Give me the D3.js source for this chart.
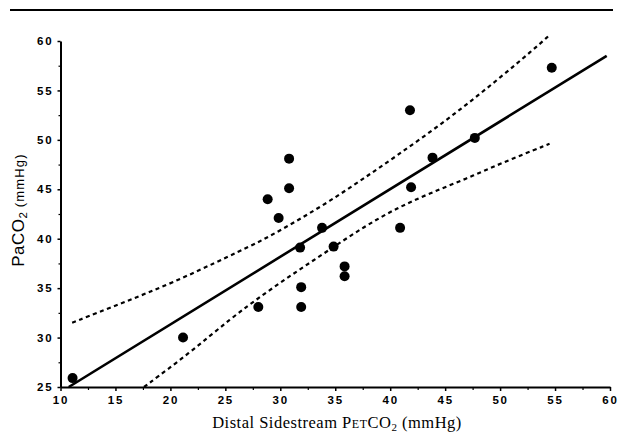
<!DOCTYPE html>
<html>
<head>
<meta charset="utf-8">
<script src="https://cdn.jsdelivr.net/npm/d3@7"></script>
<style>
  html, body { margin: 0; padding: 0; background: #fff; }
  svg { display: block; }
</style>
</head>
<body>
<svg id="chart" width="620" height="441"></svg>
<script>
// ---- data ----
const petco2 = [11.1, 21.15, 28.0, 28.85, 29.85, 30.8, 30.8, 31.8, 31.9, 31.9, 33.8, 34.85, 35.85, 35.85, 40.9, 41.8, 41.9, 43.85, 47.7, 54.7];
const paco2  = [25.9, 30.0, 33.1, 44.0, 42.1, 48.1, 45.1, 39.1, 35.1, 33.1, 41.1, 39.2, 37.2, 36.2, 41.1, 53.0, 45.2, 48.2, 50.2, 57.3];

// regression line end points
const fitX = [10.75, 59.7];
const fitY = [25.0, 58.5];

// confidence band curves
const upperX = [11.06, 15.6, 20.15, 25.45, 28.5, 31.5, 34.5, 37.6, 40.6, 43.9, 47.0, 50.0, 53.0, 54.4];
const upperY = [31.5, 33.5, 35.5, 38.3, 39.9, 41.8, 43.8, 46.1, 48.4, 51.0, 53.6, 56.3, 59.1, 60.5];
const lowerX = [17.6, 21.7, 25.45, 28.5, 31.5, 34.5, 37.6, 40.6, 43.6, 47.0, 50.0, 54.5];
const lowerY = [25.0, 28.4, 31.9, 34.4, 36.7, 38.9, 41.2, 43.1, 44.6, 46.1, 47.6, 49.6];

const xTicks = [10, 15, 20, 25, 30, 35, 40, 45, 50, 55, 60];
const yTicks = [25, 30, 35, 40, 45, 50, 55, 60];
const xMinor = [12.5, 17.5, 22.5, 27.5, 32.5, 37.5, 42.5, 47.5, 52.5, 57.5];
const yMinor = [27.5, 32.5, 37.5, 42.5, 47.5, 52.5, 57.5];

// ---- drawing ----
const svg = d3.select("#chart");
const x = d3.scaleLinear().domain([10, 60]).range([60.5, 610]);
const y = d3.scaleLinear().domain([25, 60]).range([387, 41]);

// top rule
svg.append("line")
  .attr("x1", 10).attr("x2", 613).attr("y1", 10).attr("y2", 10)
  .attr("stroke", "#000").attr("stroke-width", 2);

const tickFont = "'Liberation Sans', Arial, sans-serif";

// x axis
const gx = svg.append("g").attr("transform", `translate(0,${y(25)})`)
  .call(d3.axisBottom(x).tickValues(xTicks).tickSize(4).tickSizeOuter(0).tickPadding(5)
        .tickFormat(d3.format("d")));
gx.select(".domain").attr("stroke-width", 2);
gx.selectAll(".tick line").attr("stroke-width", 1.5);
gx.selectAll(".tick text").attr("font-family", tickFont).attr("font-weight", "bold")
  .attr("font-size", 11.5).attr("letter-spacing", "1.8px").attr("fill", "#000");
svg.append("g").attr("transform", `translate(0,${y(25)})`)
  .call(d3.axisBottom(x).tickValues(xMinor).tickSize(3).tickSizeOuter(0).tickFormat(""))
  .call(g => g.select(".domain").remove())
  .selectAll(".tick line").attr("stroke-width", 1.2);

// y axis
const gy = svg.append("g").attr("transform", `translate(${x(10)},0)`)
  .call(d3.axisLeft(y).tickValues(yTicks).tickSize(3).tickSizeOuter(0).tickPadding(4)
        .tickFormat(d3.format("d")));
gy.select(".domain").attr("stroke-width", 2);
gy.selectAll(".tick line").attr("stroke-width", 1.5);
gy.selectAll(".tick text").attr("font-family", tickFont).attr("font-weight", "bold")
  .attr("font-size", 11.5).attr("letter-spacing", "1.8px").attr("fill", "#000");
svg.append("g").attr("transform", `translate(${x(10)},0)`)
  .call(d3.axisLeft(y).tickValues(yMinor).tickSize(2).tickSizeOuter(0).tickFormat(""))
  .call(g => g.select(".domain").remove())
  .selectAll(".tick line").attr("stroke-width", 1.2);

// confidence bands
const line = d3.line().x(d => x(d[0])).y(d => y(d[1])).curve(d3.curveBasis);
svg.append("path").datum(d3.zip(upperX, upperY))
  .attr("d", line).attr("fill", "none").attr("stroke", "#000")
  .attr("stroke-width", 2.2).attr("stroke-dasharray", "4,3.5");
svg.append("path").datum(d3.zip(lowerX, lowerY))
  .attr("d", line).attr("fill", "none").attr("stroke", "#000")
  .attr("stroke-width", 2.2).attr("stroke-dasharray", "4,3.5");

// regression line
svg.append("path").datum(d3.zip(fitX, fitY))
  .attr("d", d3.line().x(d => x(d[0])).y(d => y(d[1])))
  .attr("fill", "none").attr("stroke", "#000").attr("stroke-width", 2.6);

// points
svg.append("g").selectAll("circle").data(d3.zip(petco2, paco2)).join("circle")
  .attr("cx", d => x(d[0])).attr("cy", d => y(d[1])).attr("r", 5).attr("fill", "#000");

// x title
const xt = svg.append("text").attr("x", 337).attr("y", 428).attr("text-anchor", "middle")
  .attr("font-family", "'Liberation Serif', 'Times New Roman', serif").attr("font-size", 16.5)
  .attr("letter-spacing", "0.5px").attr("fill", "#000");
xt.append("tspan").text("Distal Sidestream P");
xt.append("tspan").attr("font-size", 12).text("ET");
xt.append("tspan").text("CO");
xt.append("tspan").attr("font-size", 11).attr("dy", 3).text("2");
xt.append("tspan").attr("dy", -3).text(" (mmHg)");

// y title
const yt = svg.append("text").attr("transform", "translate(24,210) rotate(-90)")
  .attr("text-anchor", "middle").attr("font-family", tickFont).attr("fill", "#000");
yt.append("tspan").attr("font-size", 17).attr("letter-spacing", "0.5px").text("PaCO");
yt.append("tspan").attr("font-size", 11.5).attr("dy", 3).text("2");
yt.append("tspan").attr("font-size", 13).attr("dy", -3).attr("letter-spacing", "1.2px").text(" (mmHg)");
</script>
</body>
</html>
